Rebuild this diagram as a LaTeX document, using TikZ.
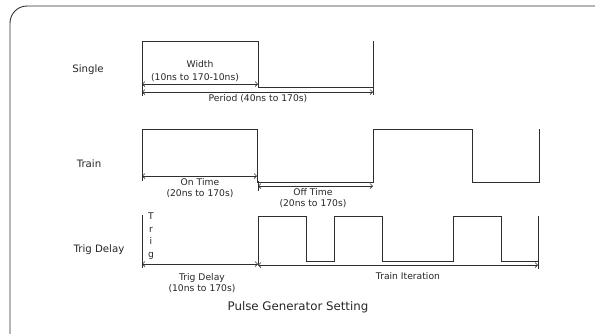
\documentclass[tikz,border=0pt]{standalone}
\usepackage{fontspec}
\setmainfont{DejaVu Sans}
\usetikzlibrary{arrows.meta}
\definecolor{wdark}{HTML}{2e2e2e}
\definecolor{wtext}{HTML}{262626}

\tikzset{
	wave/.style={draw=wdark, line width=1pt},
	dimline/.style={draw=wdark, line width=0.7pt, {Straight Barb[length=2.5pt,width=5pt]}-{Straight Barb[length=2.5pt,width=5pt]}},
	tick/.style={draw=wdark, line width=0.7pt},
	lbl/.style={font=\fontsize{9.2}{10.5}\selectfont, text=wtext, inner sep=0pt, align=center},
	rowlbl/.style={font=\fontsize{10.2}{12}\selectfont, text=wtext, inner sep=0pt},
	titlelbl/.style={font=\fontsize{11.8}{13}\selectfont, text=wtext, inner sep=0pt}
}

\begin{document}
\begin{tikzpicture}[x=1pt, y=-1pt]
		\useasboundingbox (0,0) rectangle (595,333);
		% frame, only the left part is visible
		\begin{scope}
			\clip (0,0) rectangle (595,333);
			\draw[wdark, line width=0.9pt, rounded corners=17pt] (10,6) rectangle (640,361);
		\end{scope}
		% Single
		\node[rowlbl] (single) at (88,70) {Single};
		\draw[wave] (142,84) -- (142,41) -- (258,41) -- (258,87) -- (373,87);
		\draw[wave] (373,41) -- (373,95);
		\draw[tick] (142,80) -- (142,96);
		\draw[dimline] (142,84) -- (258,84);
		\draw[dimline] (142,92) -- (373,92);
		\node[lbl] (width) at (200,64) {Width};
		\node[lbl] (widthrange) at (195,78) {(10ns to 170-10ns)};
		\node[lbl] (period) at (258,99) {Period (40ns to 170s)};
		% Train
		\node[rowlbl] (train) at (89,164) {Train};
		\draw[wave] (142,176) -- (142,129) -- (257,129) -- (257,182) -- (373,182) -- (373,129) -- (472,129) -- (472,182) -- (539,182) -- (539,129);
		\draw[tick] (142,171) -- (142,181);
		\draw[tick] (258,181) -- (258,191);
		\draw[dimline] (142,176) -- (257,176);
		\draw[dimline] (258,186) -- (373,186);
		\node[lbl] (ontime) at (200,188) {On Time\\(20ns to 170s)};
		\node[lbl] (offtime) at (313,198) {Off Time\\(20ns to 170s)};
		% Trig Delay
		\node[rowlbl] (trigrow) at (99,250) {Trig Delay};
		\node[lbl, font=\fontsize{9.2}{12.6}\selectfont] (trigword) at (151,236) {T\\r\\i\\g};
		\draw[wave] (142,215) -- (142,268);
		\draw[wave] (258,265) -- (258,216) -- (306,216) -- (306,261) -- (334,261) -- (334,216) -- (382,216) -- (382,261) -- (453,261) -- (453,216) -- (501,216) -- (501,261) -- (538,261);
		\draw[wave] (538,216) -- (538,269);
		\draw[dimline] (142,264) -- (258,264);
		\draw[dimline] (258,265) -- (538,265);
		\node[lbl] (trigdelay) at (202,283) {Trig Delay\\(10ns to 170s)};
		\node[lbl] (iteration) at (408,276) {Train Iteration};
		% caption
		\node[titlelbl] (caption) at (298,307) {Pulse Generator Setting};
	\end{tikzpicture}
\end{document}
